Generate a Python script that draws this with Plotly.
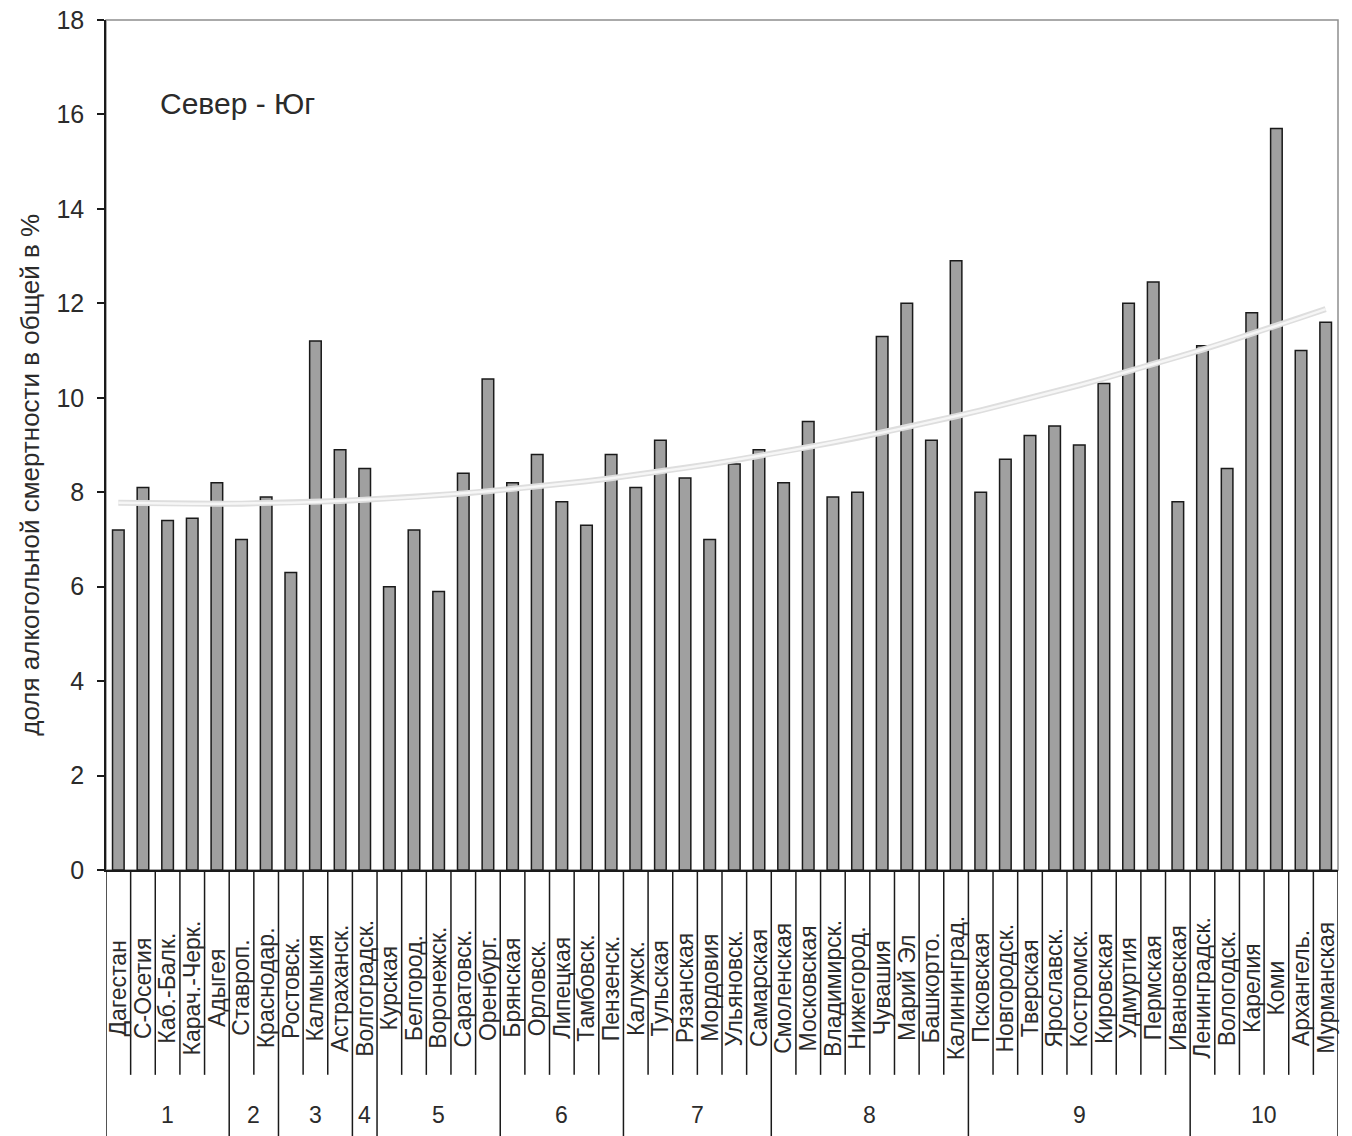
import numpy as np
import plotly.graph_objects as go

regions = ["Дагестан", "С-Осетия", "Каб.-Балк.", "Карач.-Черк.", "Адыгея",
           "Ставроп.", "Краснодар.",
           "Ростовск.", "Калмыкия", "Астраханск.",
           "Волгоградск.",
           "Курская", "Белгород.", "Воронежск.", "Саратовск.", "Оренбург.",
           "Брянская", "Орловск.", "Липецкая", "Тамбовск.", "Пензенск.",
           "Калужск.", "Тульская", "Рязанская", "Мордовия", "Ульяновск.", "Самарская",
           "Смоленская", "Московская", "Владимирск.", "Нижегород.", "Чувашия", "Марий Эл", "Башкорто.", "Калининград.",
           "Псковская", "Новгородск.", "Тверская", "Ярославск.", "Костромск.", "Кировская", "Удмуртия", "Пермская", "Ивановская",
           "Ленинградск.", "Вологодск.", "Карелия", "Коми", "Архангель.", "Мурманская"]

values = [7.2, 8.1, 7.4, 7.45, 8.2,
          7.0, 7.9,
          6.3, 11.2, 8.9,
          8.5,
          6.0, 7.2, 5.9, 8.4, 10.4,
          8.2, 8.8, 7.8, 7.3, 8.8,
          8.1, 9.1, 8.3, 7.0, 8.6, 8.9,
          8.2, 9.5, 7.9, 8.0, 11.3, 12.0, 9.1, 12.9,
          8.0, 8.7, 9.2, 9.4, 9.0, 10.3, 12.0, 12.45, 7.8,
          11.1, 8.5, 11.8, 15.7, 11.0, 11.6]

group_labels = ["1", "2", "3", "4", "5", "6", "7", "8", "9", "10"]
group_sizes = [5, 2, 3, 1, 5, 5, 6, 8, 9, 6]

y_ticks = [0, 2, 4, 6, 8, 10, 12, 14, 16, 18]
y_title = "доля алкогольной смертности в общей в %"
chart_note = "Север - Юг"

# polynomial (2nd order) trendline, as in the source chart
idx = np.arange(1, len(values) + 1)
coef = np.polyfit(idx, values, 2)
trend = np.polyval(coef, idx)

FONT = "Liberation Sans, Arial, sans-serif"
TXT = "#2b2b2b"

fig = go.Figure()
fig.add_trace(go.Bar(
    x=regions, y=values,
    marker=dict(color="#a0a0a0", line=dict(color="#1a1a1a", width=1.5)),
    showlegend=False,
))
fig.add_trace(go.Scatter(
    x=regions, y=trend, mode="lines",
    line=dict(color="#dedede", width=6), showlegend=False, hoverinfo="skip",
))
fig.add_trace(go.Scatter(
    x=regions, y=trend, mode="lines",
    line=dict(color="#f6f6f6", width=2.5), showlegend=False, hoverinfo="skip",
))

shapes = []
shapes.append(dict(type="rect", xref="paper", yref="paper", x0=0, x1=1, y0=0, y1=1,
                   line=dict(color="#8f8f8f", width=1.5), layer="below"))
boundaries = set(np.cumsum([0] + group_sizes).tolist())
n = len(regions)
for k in range(n + 1):
    long = k in boundaries
    shapes.append(dict(type="line", xref="x", yref="paper",
                       x0=k - 0.5, x1=k - 0.5, y0=0, y1=(-0.32 if long else -0.241),
                       line=dict(color="#1a1a1a", width=1.5)))

annotations = []
for i, name in enumerate(regions):
    annotations.append(dict(x=i, y=-0.139, xref="x", yref="paper", text=name,
                            textangle=-90, showarrow=False, xanchor="center", yanchor="middle",
                            font=dict(family=FONT, size=23, color=TXT)))
start = 0
for g, s in zip(group_labels, group_sizes):
    mid = start + (s - 1) / 2
    annotations.append(dict(x=mid, y=-0.288, xref="x", yref="paper", text=g,
                            showarrow=False, xanchor="center", yanchor="middle",
                            font=dict(family=FONT, size=23, color=TXT)))
    start += s
annotations.append(dict(x=0.042, y=0.902, xref="paper", yref="paper", text=chart_note,
                        showarrow=False, xanchor="left", yanchor="middle",
                        font=dict(family=FONT, size=30, color=TXT)))
annotations.append(dict(x=-0.0617, y=0.465, xref="paper", yref="paper", text=y_title,
                        textangle=-90, showarrow=False, xanchor="center", yanchor="middle",
                        font=dict(family=FONT, size=26, color=TXT)))

fig.update_layout(
    width=1352, height=1136,
    margin=dict(l=106, r=14, t=20, b=266, autoexpand=False),
    paper_bgcolor="white", plot_bgcolor="white",
    bargap=0.53,
    shapes=shapes, annotations=annotations,
    font=dict(family=FONT, color=TXT),
)
fig.update_xaxes(type="category", range=[-0.5, n - 0.5], showticklabels=False,
                 showline=True, linecolor="#1a1a1a", linewidth=1.5, showgrid=False,
                 ticks="", zeroline=False, automargin=False)
fig.update_yaxes(range=[0, 18], tickvals=y_ticks, showgrid=False, zeroline=False,
                 showline=True, linecolor="#1a1a1a", linewidth=1.5,
                 ticks="outside", ticklen=7, tickcolor="#1a1a1a", tickwidth=1.5,
                 ticklabelstandoff=8, automargin=False, ticklabeloverflow="allow",
                 tickfont=dict(family=FONT, size=25, color=TXT))

fig.write_html("out.html", post_script="document.body.style.margin='0';",
               config={"displayModeBar": False})
